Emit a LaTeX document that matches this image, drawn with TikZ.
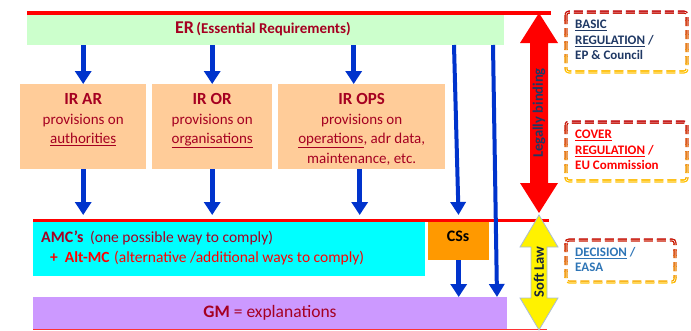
\documentclass[tikz,border=0pt]{standalone}
\usepackage{fontspec}
\setmainfont{Carlito}
\usetikzlibrary{arrows.meta,calc}
\newcommand{\myul}[1]{\underline{#1}}
\definecolor{erred}{HTML}{A50021}
\definecolor{barblue}{HTML}{0033CC}
\definecolor{lgreen}{HTML}{CCFFCC}
\definecolor{peach}{HTML}{FFCC99}
\definecolor{cyanbox}{HTML}{00FFFF}
\definecolor{csorange}{HTML}{FF9900}
\definecolor{gmpurple}{HTML}{CC99FF}
\definecolor{navy}{HTML}{1F3864}
\definecolor{decblue}{HTML}{2E75B6}
\definecolor{gtop}{HTML}{C00000}
\definecolor{gbot}{HTML}{FFC000}
\definecolor{yelline}{HTML}{A9BCD6}
\newcommand{\gradbox}[4]{%
  \foreach \i in {0,...,9}{%
    \pgfmathtruncatemacro{\p}{100-\i*100/9}%
    \begin{scope}
      \clip (#1-6, {#2-6+\i*(#4-#2+12)/10}) rectangle (#3+6, {#2-6+(\i+1)*(#4-#2+12)/10});
      \draw[gdash, draw=gtop!\p!gbot] (#1,#2) rectangle (#3,#4);
    \end{scope}}}
\tikzset{
  box/.style={draw=none, inner sep=0pt, anchor=north west},
  bluearr/.style={draw=barblue, line width=5pt, -{Triangle[width=16pt,length=13pt]}},
  thinarr/.style={draw=barblue, line width=4pt, -{Triangle[width=15pt,length=13pt]}},
  gdash/.style={line width=1.3pt, double=white, double distance=0.5pt, dash pattern=on 9pt off 4pt, rounded corners=3pt},
  irtext/.style={text=erred, align=center, font=\fontsize{15}{19.5}\selectfont, anchor=north},
  rtext/.style={align=left, anchor=north west, font=\fontsize{13}{15.5}\selectfont\bfseries, inner sep=0pt},
}
\begin{document}
\begin{tikzpicture}[x=1pt,y=-1pt]
\useasboundingbox (0,0) rectangle (691,330);
% ER
\node[box, fill=lgreen, minimum width=477pt, minimum height=31pt] (er) at (27,14) {};
\node[text=erred, inner sep=0pt] (ert) at (263,29) {\bfseries{\fontsize{18}{20}\selectfont ER} {\fontsize{15}{20}\selectfont (Essential Requirements)}};
\draw[red, line width=4pt] (27,13) -- (551,13);
% IR boxes
\node[box, fill=peach, minimum width=126pt, minimum height=85pt] (irar) at (20,84) {};
\node[box, fill=peach, minimum width=120pt, minimum height=85pt] (iror) at (152,84) {};
\node[box, fill=peach, minimum width=167pt, minimum height=85pt] (irops) at (278,84) {};
\node[irtext] (irart) at ([yshift=-6pt]irar.north) {{\fontsize{17}{19.5}\selectfont\bfseries IR AR}\\provisions on\\\myul{authorities}};
\node[irtext] (irort) at ([yshift=-6pt]iror.north) {{\fontsize{17}{19.5}\selectfont\bfseries IR OR}\\provisions on\\\myul{organisations}};
\node[irtext] (iropst) at ([yshift=-6pt]irops.north) {{\fontsize{17}{19.5}\selectfont\bfseries IR OPS}\\provisions on\\\myul{operations}, adr data,\\maintenance, etc.};
% AMC, CSs, GM
\node[box, fill=cyanbox, minimum width=392pt, minimum height=56pt] (amc) at (33,220) {};
\node[box, fill=csorange, minimum width=61pt, minimum height=38pt] (cs) at (428,222) {};
\node[box, fill=gmpurple, minimum width=474pt, minimum height=32pt] (gm) at (33,297) {};
\draw[red, line width=3pt] (33,220) -- (549,220);
\draw[red!80!white, line width=1pt] (33,329.3) -- (547,329.3);
\node[anchor=base west, inner sep=0pt, text=erred] (amct1) at (41,242) {{\fontsize{16}{18}\selectfont\bfseries AMC’s}\ \ \ {\fontsize{15.5}{18}\selectfont (one possible way to comply)}};
\node[anchor=base west, inner sep=0pt, text=red] (amct2) at (50,262) {{\fontsize{15.5}{18}\selectfont\bfseries +\ \ Alt-MC}\ \ {\fontsize{15.5}{18}\selectfont (alternative /additional ways to comply)}};
\node[inner sep=0pt, font=\fontsize{16}{18}\selectfont\bfseries] (cst) at (458,236) {CSs};
\node[inner sep=0pt, text=erred, font=\fontsize{17.5}{19}\selectfont] (gmt) at (270,313) {\textbf{GM} = explanations};
% blue arrows
\draw[bluearr] (er.south -| irar.north) -- (irar.north);
\draw[bluearr] (er.south -| iror.north) -- (iror.north);
\draw[bluearr] ([xshift=-8pt]er.south -| irops.north) -- ([xshift=-8pt]irops.north);
\draw[bluearr, shorten >=5pt] (irar.south) -- (irar.south |- amc.north);
\draw[bluearr, shorten >=5pt] (iror.south) -- (iror.south |- amc.north);
\draw[bluearr, shorten >=5pt] ([xshift=-2pt]irops.south) -- ([xshift=-2pt]irops.south |- amc.north);
\coordinate (l1top) at (454,45);
\coordinate (l2top) at (493,45);
\coordinate (l2bot) at (497,297);
\draw[thinarr, shorten >=7pt] (l1top) -- (cs.north);
\draw[thinarr] (l2top) -- (l2bot);
\draw[bluearr] (cs.south) -- (cs.south |- gm.north);
% big arrows
\fill[red] (539,13) -- (558,43) -- (548,43) -- (548,183) -- (558,183) -- (539,213) -- (520,183) -- (530,183) -- (530,43) -- (520,43) -- cycle;
\node[rotate=90, inner sep=0pt, text=navy, font=\fontsize{14.5}{16}\selectfont\bfseries] (lb) at (539,113) {Legally binding};
\filldraw[fill=yellow, draw=yelline, line width=0.8pt] (539,215) -- (558,247) -- (547,247) -- (547,298) -- (558,298) -- (539,330) -- (520,298) -- (531,298) -- (531,247) -- (520,247) -- cycle;
\node[rotate=90, inner sep=0pt, text=navy!60!black, font=\fontsize{14.5}{16}\selectfont\bfseries] (sl) at (539,272) {Soft Law};
% right boxes
\gradbox{566}{12}{687}{72}
\gradbox{566}{122}{687}{181}
\gradbox{566}{240}{675}{282}
\node[rtext, text=navy] (basic) at (575,20) {\myul{BASIC}\\\myul{REGULATION} /\\EP \& Council};
\node[rtext, text=red] (cover) at (575,130) {\myul{COVER}\\\myul{REGULATION} /\\EU Commission};
\node[rtext, text=decblue] (dec) at (575,247) {\myul{DECISION} /\\EASA};
\end{tikzpicture}
\end{document}
